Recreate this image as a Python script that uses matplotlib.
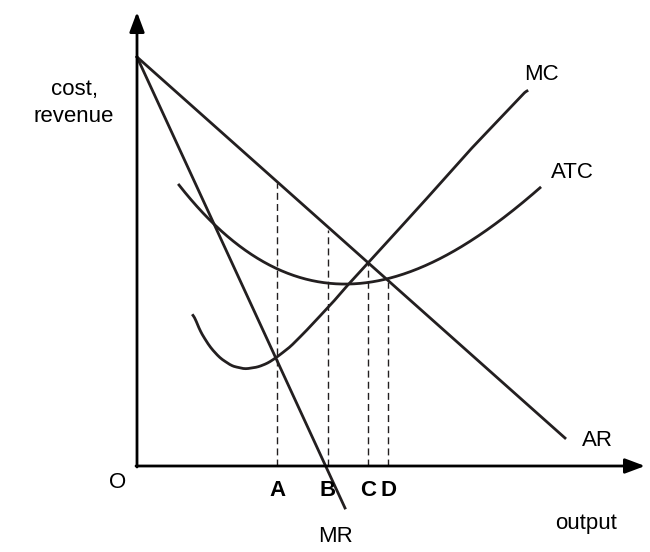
import numpy as np
import matplotlib
matplotlib.use("Agg")
import matplotlib.pyplot as plt

plt.rcParams['font.family'] = ['Liberation Sans', 'DejaVu Sans']

origin = (137, 466)
ar_x = [137, 565]; ar_y = [57, 438]
mr_x = [137, 345]; mr_y = [57, 508]
mc_x = [193, 200, 210, 220, 232, 245, 258, 268, 277, 290, 305, 320, 334, 346, 368, 420, 470, 527]
mc_y = [313, 331, 347, 358, 366, 369, 367, 363, 357, 347, 332, 316, 301, 287, 263, 206, 150, 90]
atc_x = [179, 213, 260, 300, 350, 388, 430, 480, 540]
atc_y = [187, 222, 256, 277, 288, 282, 262, 230, 190]
q_labels = ['A', 'B', 'C', 'D']
q_x = [277, 328, 368, 388]
q_top = [183, 230, 263, 282]

fig = plt.figure(figsize=(6.5, 5.52), dpi=100)
ax = fig.add_axes([0, 0, 1, 1])
ax.set_xlim(0, 650); ax.set_ylim(552, 0); ax.axis('off')

lw = 2.0
ax.annotate('', xy=(137, 12), xytext=(137, 467),
            arrowprops=dict(arrowstyle='-|>,head_length=1.2,head_width=0.45', lw=lw, color='black', shrinkA=0, shrinkB=0))
ax.annotate('', xy=(645, 466), xytext=(136, 466),
            arrowprops=dict(arrowstyle='-|>,head_length=1.2,head_width=0.45', lw=lw, color='black', shrinkA=0, shrinkB=0))

ax.plot(ar_x, ar_y, color='#231f20', lw=lw)
ax.plot(mr_x, mr_y, color='#231f20', lw=lw)

def dense(xs, ys):
    xx = np.linspace(min(xs), max(xs), 400)
    yy = np.interp(xx, xs, ys)
    k = np.ones(9) / 9
    yp = np.pad(yy, 4, mode='edge')
    return xx, np.convolve(yp, k, mode='valid')

ax.plot(*dense(mc_x, mc_y), color='#231f20', lw=lw)
p = np.polyfit(atc_x, atc_y, 3)
xx = np.linspace(min(atc_x), max(atc_x), 300)
ax.plot(xx, np.polyval(p, xx), color='#231f20', lw=lw)

for lab, x, t in zip(q_labels, q_x, q_top):
    ax.plot([x, x], [origin[1], t], color='#231f20', lw=1.0, dashes=(5, 3))
    ax.text(x, 490, lab, ha='center', va='center', fontsize=16, fontweight='bold')

fs = 16
ax.text(74, 103, 'cost,\nrevenue', ha='center', va='center', fontsize=fs, linespacing=1.35)
ax.text(118, 482, 'O', ha='center', va='center', fontsize=fs)
ax.text(586, 524, 'output', ha='center', va='center', fontsize=fs)
ax.text(336, 537, 'MR', ha='center', va='center', fontsize=fs)
ax.text(541, 75, 'MC', ha='center', va='center', fontsize=fs)
ax.text(572, 172, 'ATC', ha='center', va='center', fontsize=fs)
ax.text(597, 440, 'AR', ha='center', va='center', fontsize=fs)

fig.savefig('out.png', dpi=100)
